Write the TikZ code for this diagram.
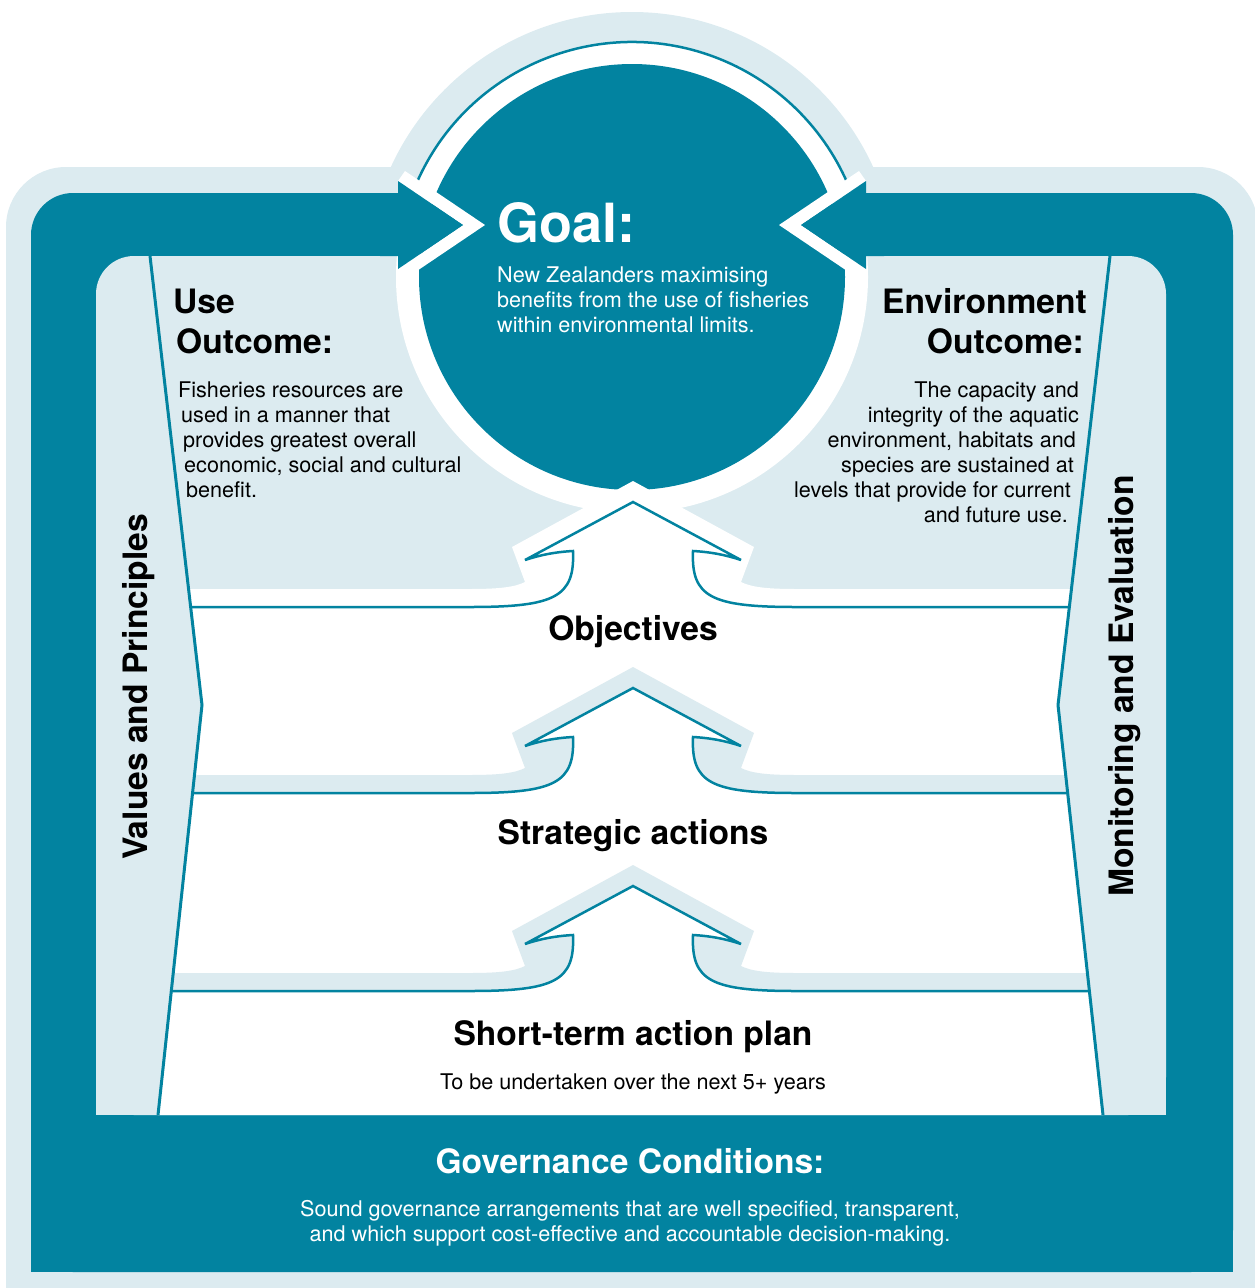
\documentclass[tikz,border=0pt]{standalone}
\usepackage{fontspec}
\setmainfont{TeX Gyre Heros}
\definecolor{fishteal}{RGB}{2,131,160}
\definecolor{fishlight}{RGB}{220,235,240}
\newcommand{\halopath}{(100,-18) -- (470,-18) .. controls (500,-18) and (515,-20) .. (525,-25) -- (512,-60) -- (633,-126) -- (754,-60) -- (741,-25) .. controls (751,-20) and (766,-18) .. (796,-18) -- (1165,-18)}
\newcommand{\arrowpath}{(100,0) -- (470,0) .. controls (555,0) and (575,-10) .. (573,-56) .. controls (555,-55) and (540,-52) .. (525,-47) -- (633,-105) -- (741,-47) .. controls (726,-52) and (711,-55) .. (693,-56) .. controls (691,-10) and (711,0) .. (796,0) -- (1165,0)}

\begin{document}
\begin{tikzpicture}[x=1pt, y=-1pt,
    bodytext/.style={font=\fontsize{21.6}{25}\selectfont, inner sep=0pt},
    headtext/.style={font=\fontsize{33.6}{40}\selectfont\bfseries, inner sep=0pt}]
    \useasboundingbox (0,0) rectangle (1255,1288);

    \fill[fishlight, rounded corners=60] (6,167) rectangle (1258,1288);
    \fill[fishlight] (6,700) rectangle (1258,1288);
    \fill[fishlight] (632,277) circle[radius=265];
    \fill[fishteal, rounded corners=42] (31,193) rectangle (1233,1272);
    \fill[fishteal] (31,700) rectangle (1233,1272);
    \fill[fishlight, rounded corners=38] (96,256) rectangle (1166,1115);
    \fill[fishlight] (96,700) rectangle (1166,1115);

    \fill[white] (632,277) circle[radius=236];
    \draw[fishteal, line width=2.5] (632,277) ++(202:235) arc[start angle=202, end angle=338, radius=235];
    \fill[fishteal] (632,277) circle[radius=213];

    \begin{scope}
      \clip (150,256) -- (202,705) -- (158,1115) -- (1103,1115) -- (1058,705) -- (1110,256) -- cycle;
      \begin{scope}[shift={(0,607)}]
        \fill[white] \halopath -- (1165,600) -- (100,600) -- cycle;
      \end{scope}
      \foreach \L in {793,991} {
        \begin{scope}[shift={(0,\L)}]
          \fill[fishlight] \halopath -- (1165,5) -- (100,5) -- cycle;
          \fill[white] \arrowpath -- (1165,40) -- (100,40) -- cycle;
        \end{scope}
      }
      \foreach \L in {607,793,991} {
        \begin{scope}[shift={(0,\L)}]
          \draw[fishteal, line width=2.5] \arrowpath;
        \end{scope}
      }
    \end{scope}

    \draw[fishteal, line width=3] (150,256) -- (202,705) -- (158,1115);
    \draw[fishteal, line width=3] (1110,256) -- (1058,705) -- (1103,1115);

    \fill[white] (398,181) -- (463,225) -- (398,269) -- (405,279) -- (485,225) -- (405,171) -- cycle;
    \fill[fishteal] (380,193) -- (398,193) -- (398,181) -- (463,225) -- (398,269) -- (398,256) -- (380,256) -- cycle;
    \fill[white] (866,181) -- (801,225) -- (866,269) -- (859,279) -- (779,225) -- (859,171) -- cycle;
    \fill[fishteal] (884,193) -- (866,193) -- (866,181) -- (801,225) -- (866,269) -- (866,256) -- (884,256) -- cycle;

    \node[anchor=base west, inner sep=0pt, text=white, font=\fontsize{54}{60}\selectfont\bfseries] (goal) at (497,242) {Goal:};
    \foreach \y/\t [count=\i] in {282/{New Zealanders maximising}, 307/{benefits from the use of fisheries}, 332/{within environmental limits.}}
      \node[bodytext, anchor=base west, text=white] (goal\i) at (497,\y) {\t};

    \node[headtext, anchor=base west] (usehead) at (173,313) {Use};
    \node[headtext, anchor=base west] (useoutcome) at (176,353) {Outcome:};
    \foreach \x/\y/\t [count=\i] in {178/397/{Fisheries resources are}, 181/422/{used in a manner that}, 183/447/{provides greatest overall}, 184/472/{economic, social and cultural}, 186/497/{benefit.}}
      \node[bodytext, anchor=base west] (use\i) at (\x,\y) {\t};

    \node[headtext, anchor=base east] (envhead) at (1087,313) {Environment};
    \node[headtext, anchor=base east] (envoutcome) at (1084,353) {Outcome:};
    \foreach \x/\y/\t [count=\i] in {1079/397/{The capacity and}, 1079/422/{integrity of the aquatic}, 1076/447/{environment, habitats and}, 1074/472/{species are sustained at}, 1071/497/{levels that provide for current}, 1068/522/{and future use.}}
      \node[bodytext, anchor=base east] (env\i) at (\x,\y) {\t};

    \node[headtext, anchor=base] (objectives) at (633,640) {Objectives};
    \node[headtext, anchor=base] (strategic) at (633,844) {Strategic actions};
    \node[headtext, anchor=base] (shortterm) at (633,1045) {Short-term action plan};
    \node[bodytext, anchor=base] (years) at (633,1089) {To be undertaken over the next 5+ years};

    \node[headtext, anchor=base, text=white] (governance) at (630,1173) {Governance Conditions:};
    \node[bodytext, anchor=base, text=white] (gov1) at (630,1216) {Sound governance arrangements that are well specified, transparent,};
    \node[bodytext, anchor=base, text=white] (gov2) at (630,1241) {and which support cost-effective and accountable decision-making.};

    \node[headtext, rotate=90, anchor=base] (values) at (147,687) {Values and Principles};
    \node[headtext, rotate=90, anchor=base] (monitoring) at (1133,686) {Monitoring and Evaluation};
  \end{tikzpicture}
\end{document}
